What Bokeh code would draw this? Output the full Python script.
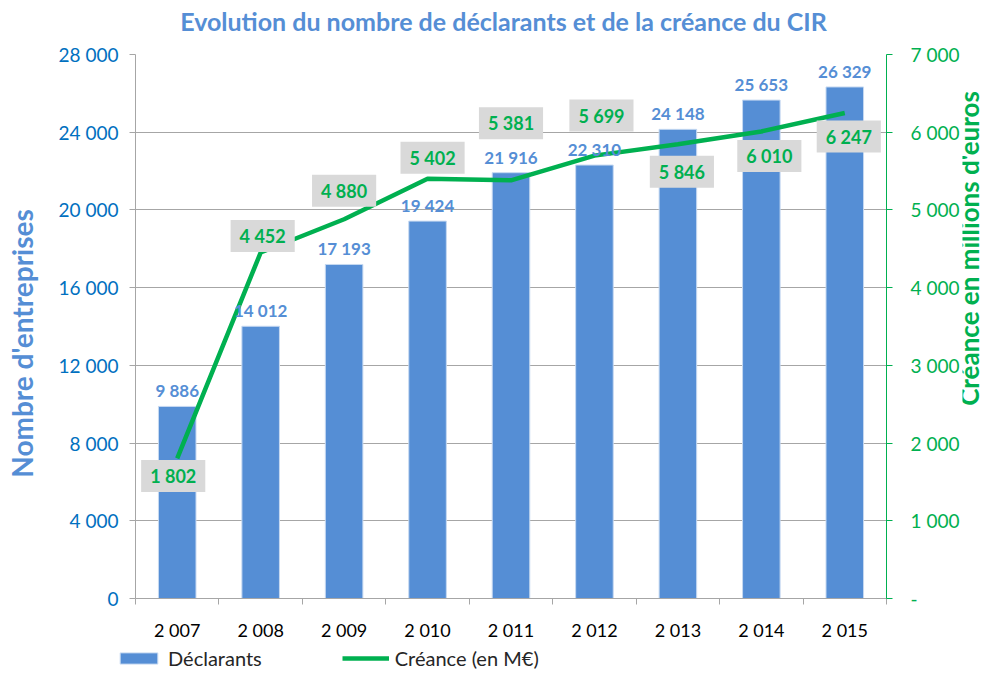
import math
from bokeh.plotting import figure
from bokeh.layouts import column, row
from bokeh.models import (Range1d, LinearAxis, FixedTicker, Label, Legend, LegendItem,
                          ColumnDataSource, LabelSet)
from bokeh.core.properties import value
from bokeh.embed import file_html
from bokeh.resources import INLINE

# ---- data ----
years = ["2 007", "2 008", "2 009", "2 010", "2 011", "2 012", "2 013", "2 014", "2 015"]
declarants = [9886, 14012, 17193, 19424, 21916, 22310, 24148, 25653, 26329]
creance = [1802, 4452, 4880, 5402, 5381, 5699, 5846, 6010, 6247]
left_ticks = [0, 4000, 8000, 12000, 16000, 20000, 24000, 28000]
right_ticks = [0, 1000, 2000, 3000, 4000, 5000, 6000, 7000]
series_names = ["Déclarants", "Créance (en M€)"]
title_text = "Evolution du nombre de déclarants et de la créance du CIR"
left_title = "Nombre d'entreprises"
right_title = "Créance en millions d'euros"

# ---- styles ----
FONT = "Lato"
BAR_COLOR = "#558ED5"
GREEN = "#00B050"
GRID = "#A6A6A6"
# pixel offsets of the creance labels relative to their point (style only)
lab_dx = [-4, 2, 0, 5, 0, 7, 4, 8, 4]
lab_dy = [-17.5, 16.5, 28.5, 21, 57, 40, -27.5, -24.5, -23.5]

TITLE_H, MAIN_H, LEG_H = 40, 606, 24
LEFT_W, MAIN_W, RIGHT_W = 43, 919, 19


def fmt(v):
    return f"{v:,}".replace(",", " ")


def strip(w, h, **kw):
    f = figure(width=w, height=h, output_backend="svg", toolbar_location=None,
               x_axis_location=None, y_axis_location=None,
               x_range=Range1d(0, 1), y_range=Range1d(0, 1),
               min_border_left=0, min_border_right=0, min_border_top=0,
               min_border_bottom=0, **kw)
    f.grid.visible = False
    f.outline_line_color = None
    return f


xs = list(range(len(years)))

# ---- main chart ----
p = figure(width=MAIN_W, height=MAIN_H, output_backend="svg", toolbar_location=None,
           x_range=Range1d(-0.5, len(years) - 0.5), y_range=Range1d(0, 28000),
           min_border_left=92, min_border_right=75, min_border_top=14,
           min_border_bottom=48)
p.outline_line_color = None
p.extra_y_ranges = {"cr": Range1d(0, 7000)}

xax = p.xaxis[0]
xax.ticker = FixedTicker(ticks=xs, minor_ticks=[i - 0.5 for i in range(len(years) + 1)])
xax.major_label_overrides = {i: y for i, y in zip(xs, years)}
xax.major_tick_line_color = None
xax.major_tick_out = 0
xax.minor_tick_out = 6
xax.minor_tick_in = 0
xax.minor_tick_line_color = GRID
xax.axis_line_color = GRID
xax.major_label_text_font = FONT
xax.major_label_text_font_size = "18px"
xax.major_label_text_color = "#000000"
xax.major_label_standoff = 14

yax = p.yaxis[0]
yax.ticker = FixedTicker(ticks=left_ticks)
yax.major_label_overrides = {t: fmt(t) for t in left_ticks}
yax.axis_line_color = GRID
yax.major_tick_line_color = GRID
yax.major_tick_out = 6
yax.major_tick_in = 0
yax.minor_tick_line_color = None
yax.major_label_text_font = FONT
yax.major_label_text_font_size = "19px"
yax.major_label_text_color = "#0070C0"
yax.major_label_standoff = 11

rax = LinearAxis(y_range_name="cr", ticker=FixedTicker(ticks=right_ticks))
rax.major_label_overrides = {t: (fmt(t) if t else "-") for t in right_ticks}
rax.axis_line_color = GREEN
rax.major_tick_line_color = GREEN
rax.major_tick_out = 6
rax.major_tick_in = 0
rax.minor_tick_line_color = None
rax.major_label_text_font = FONT
rax.major_label_text_font_size = "19px"
rax.major_label_text_color = GREEN
rax.major_label_standoff = 18
p.add_layout(rax, "right")

p.xgrid.grid_line_color = None
p.ygrid.ticker = FixedTicker(ticks=left_ticks)
p.ygrid.grid_line_color = GRID
p.ygrid.grid_line_width = 1

src = ColumnDataSource(dict(x=xs, d=declarants, c=creance,
                            dl=[fmt(v) for v in declarants]))

bars = p.vbar(x="x", top="d", width=0.45, source=src, fill_color=BAR_COLOR,
              line_color="#C6D9F1", line_width=1)
line = p.line(x="x", y="c", source=src, y_range_name="cr", line_color=GREEN,
              line_width=4.5)

bar_labels = LabelSet(x="x", y="d", text="dl", source=src, y_offset=5,
                      text_align="center", text_baseline="bottom",
                      text_font=value(FONT), text_font_size=value("17px"),
                      text_font_style="bold", text_color=BAR_COLOR)
p.add_layout(bar_labels)

for xi, ci, dx, dy in zip(xs, creance, lab_dx, lab_dy):
    p.add_layout(Label(x=xi, y=ci, y_range_name="cr", text=fmt(ci),
                       x_offset=dx, y_offset=dy,
                       text_align="center", text_baseline="middle",
                       text_font=FONT, text_font_size="18px", text_font_style="bold",
                       text_color=GREEN, background_fill_color="#D9D9D9",
                       padding=(9, 5)))

# ---- title strip ----
pt = strip(LEFT_W + MAIN_W + RIGHT_W, TITLE_H)
pt.add_layout(Label(x=388, y=20, x_units="screen", y_units="screen", text=title_text,
                    text_align="center", text_baseline="middle",
                    text_font=FONT, text_font_size="25px", text_font_style="bold",
                    text_color=BAR_COLOR))

# ---- side strips with the axis titles ----
pl = strip(LEFT_W, MAIN_H)
pl.add_layout(Label(x=21, y=255, x_units="screen", y_units="screen", text=left_title,
                    angle=math.pi / 2, text_align="center", text_baseline="middle",
                    text_font=FONT, text_font_size="28px", text_font_style="bold",
                    text_color=BAR_COLOR))
pr = strip(RIGHT_W, MAIN_H)
pr.add_layout(Label(x=6, y=350, x_units="screen", y_units="screen", text=right_title,
                    angle=math.pi / 2, text_align="center", text_baseline="middle",
                    text_font=FONT, text_font_size="26px", text_font_style="bold",
                    text_color=GREEN))

# ---- legend strip ----
p2 = figure(width=LEFT_W + MAIN_W + RIGHT_W, height=LEG_H, output_backend="svg",
            toolbar_location=None, x_axis_location=None, y_axis_location=None,
            x_range=Range1d(-20, -19), y_range=Range1d(0, 1),
            min_border_left=115, min_border_right=0, min_border_top=0,
            min_border_bottom=0)
p2.grid.visible = False
p2.outline_line_color = None
lb = p2.vbar(x="x", top="d", width=0.45, source=src, fill_color=BAR_COLOR,
             line_color="#C6D9F1")
ll = p2.line(x="x", y="c", source=src, line_color=GREEN, line_width=4.5)
legend = Legend(items=[LegendItem(label=series_names[0], renderers=[lb]),
                       LegendItem(label=series_names[1], renderers=[ll])],
                orientation="horizontal", location="top_left",
                glyph_width=47, glyph_height=14, label_standoff=6, spacing=80,
                padding=0, margin=0, border_line_color=None,
                background_fill_alpha=0,
                label_text_font=FONT, label_text_font_size="20px",
                label_text_color="#262626")
p2.add_layout(legend)

layout = column(pt, row(pl, p, pr, spacing=0), p2, spacing=0)
open("out.html", "w").write(file_html(layout, INLINE))
